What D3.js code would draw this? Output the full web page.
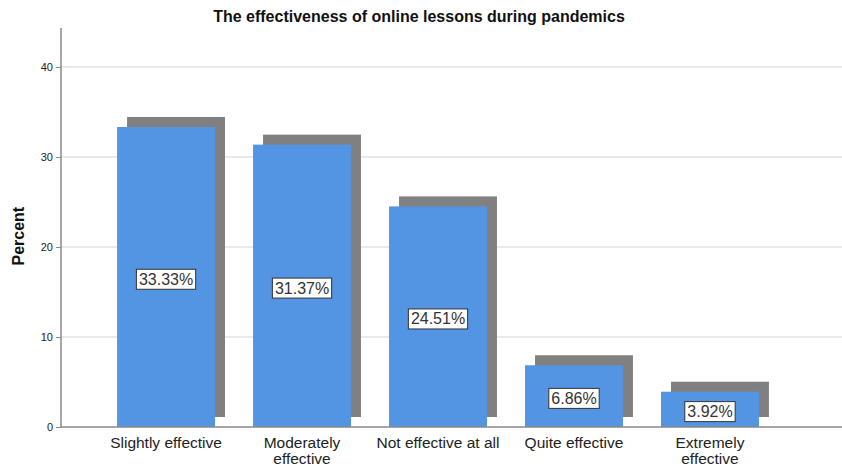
<!DOCTYPE html>
<html><head><meta charset="utf-8">
<script src="https://cdn.jsdelivr.net/npm/d3@7/dist/d3.min.js"></script>
<style>body{margin:0;background:#fff;} svg{display:block;font-family:Arial,"Liberation Sans",sans-serif;}</style>
</head><body><svg id="c" width="842" height="466"></svg>
<script>
const categories = [["Slightly effective"], ["Moderately", "effective"], ["Not effective at all"], ["Quite effective"], ["Extremely", "effective"]];
const values = [33.33, 31.37, 24.51, 6.86, 3.92];
const labels = ["33.33%", "31.37%", "24.51%", "6.86%", "3.92%"];
const yTicks = [0, 10, 20, 30, 40];
const title = "The effectiveness of online lessons during pandemics";
const yTitle = "Percent";

const svg = d3.select("#c");
const W = 842, H = 466;
const axisX = 61, baseY = 427, topY = 28;
const y = d3.scaleLinear().domain([0, 44.33]).range([baseY, topY]);
const x = d3.scaleBand().domain(d3.range(values.length)).range([79, 797]).padding(0.28);

// gridlines
svg.append("g").selectAll("line").data(yTicks.filter(t => t > 0)).join("line")
  .attr("x1", axisX).attr("x2", W).attr("y1", d => y(d)).attr("y2", d => y(d))
  .attr("stroke", "#d4d4d4").attr("stroke-width", 1);

// y axis
const ya = svg.append("g").attr("transform", `translate(${axisX},0)`)
  .call(d3.axisLeft(y).tickValues(yTicks).tickSize(5).tickPadding(3));
ya.select(".domain").remove();
ya.selectAll(".tick line").attr("stroke", "#888");
ya.selectAll(".tick text").attr("font-size", 11).attr("fill", "#222").attr("font-family", "Arial, 'Liberation Sans', sans-serif");
svg.append("line").attr("x1", axisX).attr("x2", axisX).attr("y1", topY).attr("y2", baseY)
  .attr("stroke", "#888").attr("stroke-width", 1.5);

const off = 10;
// shadows
svg.append("g").selectAll("rect").data(values).join("rect")
  .attr("x", (d, i) => x(i) + off).attr("width", x.bandwidth())
  .attr("y", d => y(d) - off).attr("height", d => baseY - y(d))
  .attr("fill", "#808080");
// bars
svg.append("g").selectAll("rect").data(values).join("rect")
  .attr("x", (d, i) => x(i)).attr("width", x.bandwidth())
  .attr("y", d => y(d)).attr("height", d => baseY - y(d))
  .attr("fill", "#5394E3");

// x baseline
svg.append("line").attr("x1", axisX).attr("x2", W).attr("y1", baseY).attr("y2", baseY)
  .attr("stroke", "#888").attr("stroke-width", 1.5);

// data labels
const lg = svg.append("g").selectAll("g").data(values).join("g")
  .attr("transform", (d, i) => `translate(${x(i) + x.bandwidth() / 2},${y(d / 2) + 2})`);
lg.append("text").attr("text-anchor", "middle").attr("dy", "0.36em")
  .attr("font-size", 16).attr("fill", "#333").text((d, i) => labels[i]);
lg.each(function () {
  const g = d3.select(this);
  const bb = g.select("text").node().getBBox();
  g.insert("rect", "text").attr("x", bb.x - 2.5).attr("y", bb.y - 1.5)
    .attr("width", bb.width + 5).attr("height", bb.height + 3)
    .attr("fill", "#fff").attr("stroke", "#333").attr("stroke-width", 1);
});

// x labels
const xl = svg.append("g").selectAll("text").data(categories).join("text")
  .attr("x", (d, i) => x(i) + x.bandwidth() / 2).attr("y", 448)
  .attr("text-anchor", "middle").attr("font-size", 15.5).attr("fill", "#222");
xl.selectAll("tspan").data(d => d).join("tspan")
  .attr("x", function () { return d3.select(this.parentNode).attr("x"); })
  .attr("dy", (d, i) => i === 0 ? 0 : 15.5).text(d => d);

// title
svg.append("text").attr("x", 419).attr("y", 22).attr("text-anchor", "middle")
  .attr("font-size", 16).attr("font-weight", "bold").attr("fill", "#111").text(title);
// y title
svg.append("text").attr("transform", `translate(24,${y(21.2)}) rotate(-90)`)
  .attr("text-anchor", "middle").attr("font-size", 16).attr("font-weight", "bold").attr("fill", "#111").text(yTitle);
</script></body></html>
